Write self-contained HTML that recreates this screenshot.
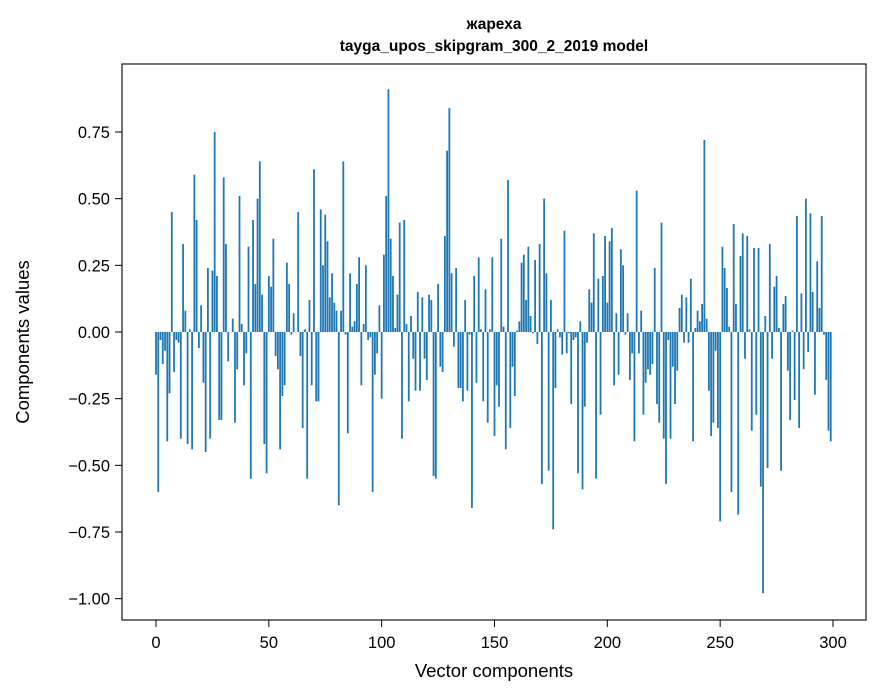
<!DOCTYPE html>
<html><head><meta charset="utf-8"><style>
html,body{margin:0;padding:0;background:#fff;}
svg{display:block;font-family:"Liberation Sans","DejaVu Sans",sans-serif;}
</style></head><body>
<svg id="chart" width="880" height="696" viewBox="0 0 880 696" xmlns="http://www.w3.org/2000/svg">
<rect x="0" y="0" width="880" height="696" fill="#fff"/>
<text x="494" y="29" text-anchor="middle" font-size="15.5" font-weight="bold">жареха</text>
<text x="494" y="51" text-anchor="middle" font-size="15.5" font-weight="bold">tayga_upos_skipgram_300_2_2019 model</text>
<g id="bars"></g>
<g id="xticks"></g>
<g id="yticks"></g>
<rect x="122" y="64" width="744" height="556" fill="none" stroke="#000" stroke-width="1.1"/>
<text x="494" y="677" text-anchor="middle" font-size="18.5">Vector components</text>
<text transform="translate(29,342) rotate(-90)" text-anchor="middle" font-size="18.5">Components values</text>
</svg>
<script>
const values = [-0.16,-0.60,-0.03,-0.12,-0.07,-0.41,-0.23,0.45,-0.15,-0.03,-0.04,-0.40,0.33,0.08,-0.42,0.01,-0.44,0.59,0.42,-0.06,0.10,-0.19,-0.45,0.24,-0.40,0.23,0.75,0.21,-0.33,-0.33,0.58,0.33,-0.11,0.0,0.05,-0.34,-0.14,0.51,0.03,-0.20,-0.08,0.32,-0.55,0.42,0.18,0.50,0.64,0.14,-0.42,-0.53,
0.21,0.17,0.35,-0.09,-0.14,-0.44,-0.24,-0.20,0.26,0.18,-0.01,0.07,0.0,0.45,-0.09,-0.36,0.01,-0.55,0.12,-0.20,0.61,-0.26,-0.26,0.46,0.25,0.44,0.34,0.13,0.22,0.11,0.08,-0.65,0.08,0.64,-0.01,-0.38,0.22,0.02,0.04,0.18,0.28,-0.20,0.03,0.25,-0.03,-0.02,-0.60,-0.16,-0.08,0.10,
-0.25,0.29,0.51,0.91,0.35,0.21,0.015,0.14,0.41,-0.40,0.42,0.03,-0.26,0.06,-0.10,-0.22,0.15,-0.22,0.13,-0.10,-0.18,0.14,0.12,-0.54,-0.55,0.18,-0.13,-0.15,0.36,0.68,0.84,0.22,-0.055,0.24,-0.21,-0.21,-0.26,0.12,-0.22,-0.01,-0.66,0.21,-0.19,0.28,0.01,-0.26,0.16,-0.34,0.01,0.28,
-0.39,-0.20,-0.28,0.35,0.02,-0.44,0.57,-0.36,-0.13,-0.24,0.005,0.04,0.26,0.29,0.12,0.32,0.06,-0.005,0.27,-0.045,0.33,-0.57,0.50,0.22,-0.52,0.12,-0.74,-0.21,0.01,-0.02,-0.085,0.38,-0.08,-0.005,-0.27,-0.03,-0.02,-0.53,0.04,-0.59,-0.28,-0.04,0.16,0.11,0.37,-0.55,0.20,-0.31,0.21,0.36,
0.11,0.34,0.39,-0.20,0.07,-0.16,0.31,0.25,-0.01,0.07,-0.18,-0.08,-0.41,0.53,-0.08,0.08,-0.31,-0.19,-0.14,-0.16,-0.12,0.24,-0.27,-0.34,0.41,-0.40,-0.57,-0.03,-0.40,-0.13,-0.27,-0.145,0.09,0.14,-0.04,0.13,-0.04,0.20,-0.41,0.015,0.08,0.04,0.105,0.72,0.05,-0.22,-0.39,-0.34,-0.07,-0.36,
-0.71,0.32,0.24,0.165,0.02,-0.60,0.405,0.105,-0.685,0.285,0.37,-0.10,0.36,0.01,-0.37,0.315,-0.31,0.315,-0.58,-0.98,0.06,-0.51,0.33,-0.10,0.17,0.21,0.015,-0.52,0.105,0.135,-0.145,-0.33,0.005,-0.255,0.435,-0.36,0.145,-0.14,0.50,-0.075,0.445,0.15,-0.235,0.265,0.09,0.435,-0.01,-0.18,-0.37,-0.41];
const xTickValues = [0,50,100,150,200,250,300];
const xTickLabels = ["0","50","100","150","200","250","300"];
const yTickValues = [-1.0,-0.75,-0.5,-0.25,0,0.25,0.5,0.75];
const yTickLabels = ["\u22121.00","\u22120.75","\u22120.50","\u22120.25","0.00","0.25","0.50","0.75"];

const NS = "http://www.w3.org/2000/svg";
const xScale = v => 156 + v * (677 / 300);
const yScale = v => 332 - v * (800 / 3);
const barW = 0.8 * (677 / 300);

const gb = document.getElementById('bars');
values.forEach((v, i) => {
  const r = document.createElementNS(NS, 'rect');
  const y0 = yScale(0), y1 = yScale(v);
  r.setAttribute('x', xScale(i) - barW / 2);
  r.setAttribute('y', Math.min(y0, y1));
  r.setAttribute('width', barW);
  r.setAttribute('height', Math.max(Math.abs(y1 - y0), 0.3));
  r.setAttribute('fill', '#1f77b4');
  
  
  gb.appendChild(r);
});

const gx = document.getElementById('xticks');
xTickValues.forEach((v, i) => {
  const x = xScale(v);
  const l = document.createElementNS(NS, 'line');
  l.setAttribute('x1', x); l.setAttribute('x2', x);
  l.setAttribute('y1', 620); l.setAttribute('y2', 627);
  l.setAttribute('stroke', '#000');
  
  
  gx.appendChild(l);
  const t = document.createElementNS(NS, 'text');
  t.setAttribute('x', x); t.setAttribute('y', 648);
  t.setAttribute('text-anchor', 'middle');
  t.setAttribute('font-size', '16.5');
  t.textContent = xTickLabels[i];
  
  
  gx.appendChild(t);
});

const gy = document.getElementById('yticks');
yTickValues.forEach((v, i) => {
  const y = yScale(v);
  const l = document.createElementNS(NS, 'line');
  l.setAttribute('x1', 115); l.setAttribute('x2', 122);
  l.setAttribute('y1', y); l.setAttribute('y2', y);
  l.setAttribute('stroke', '#000');
  
  
  gy.appendChild(l);
  const t = document.createElementNS(NS, 'text');
  t.setAttribute('x', 110); t.setAttribute('y', y + 6);
  t.setAttribute('text-anchor', 'end');
  t.setAttribute('font-size', '16.5');
  t.textContent = yTickLabels[i];
  
  
  gy.appendChild(t);
});
</script>
</body></html>
